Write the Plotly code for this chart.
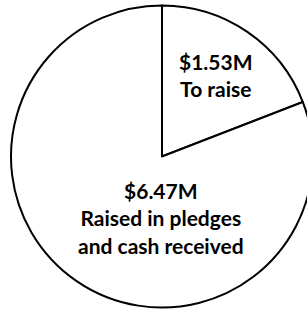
import plotly.graph_objects as go

labels = ["To raise", "Raised in pledges<br>and cash received"]
amounts = ["$1.53M", "$6.47M"]
values = [1.53, 6.47]

W, H = 320, 309
cx, cy, r = 162, 156.5, 151

fig = go.Figure(go.Pie(
    values=values,
    labels=labels,
    sort=False,
    direction="clockwise",
    rotation=0,
    textinfo="none",
    hoverinfo="skip",
    marker=dict(colors=["white", "white"], line=dict(color="black", width=2)),
    domain=dict(x=[(cx - r) / W, (cx + r) / W], y=[1 - (cy + r) / H, 1 - (cy - r) / H]),
    showlegend=False,
))

font = dict(family="Lato, Carlito, sans-serif", size=21, color="#000000")
pos = [(216, 75), (161, 218)]
for (px, py), amt, lab in zip(pos, amounts, labels):
    fig.add_annotation(
        x=px / W, y=1 - py / H, xref="paper", yref="paper",
        text=f"<b>{amt}</b><br><b>{lab.replace('<br>', '</b><br><b>')}</b>",
        showarrow=False, font=font, align="center",
        xanchor="center", yanchor="middle",
    )

fig.update_layout(
    width=W, height=H,
    margin=dict(l=0, r=0, t=0, b=0),
    paper_bgcolor="white", plot_bgcolor="white",
)

fig.write_html(
    "out.html",
    config={"displayModeBar": False},
    post_script="document.body.style.margin='0';document.body.style.overflow='hidden';document.documentElement.style.overflow='hidden';",
)
